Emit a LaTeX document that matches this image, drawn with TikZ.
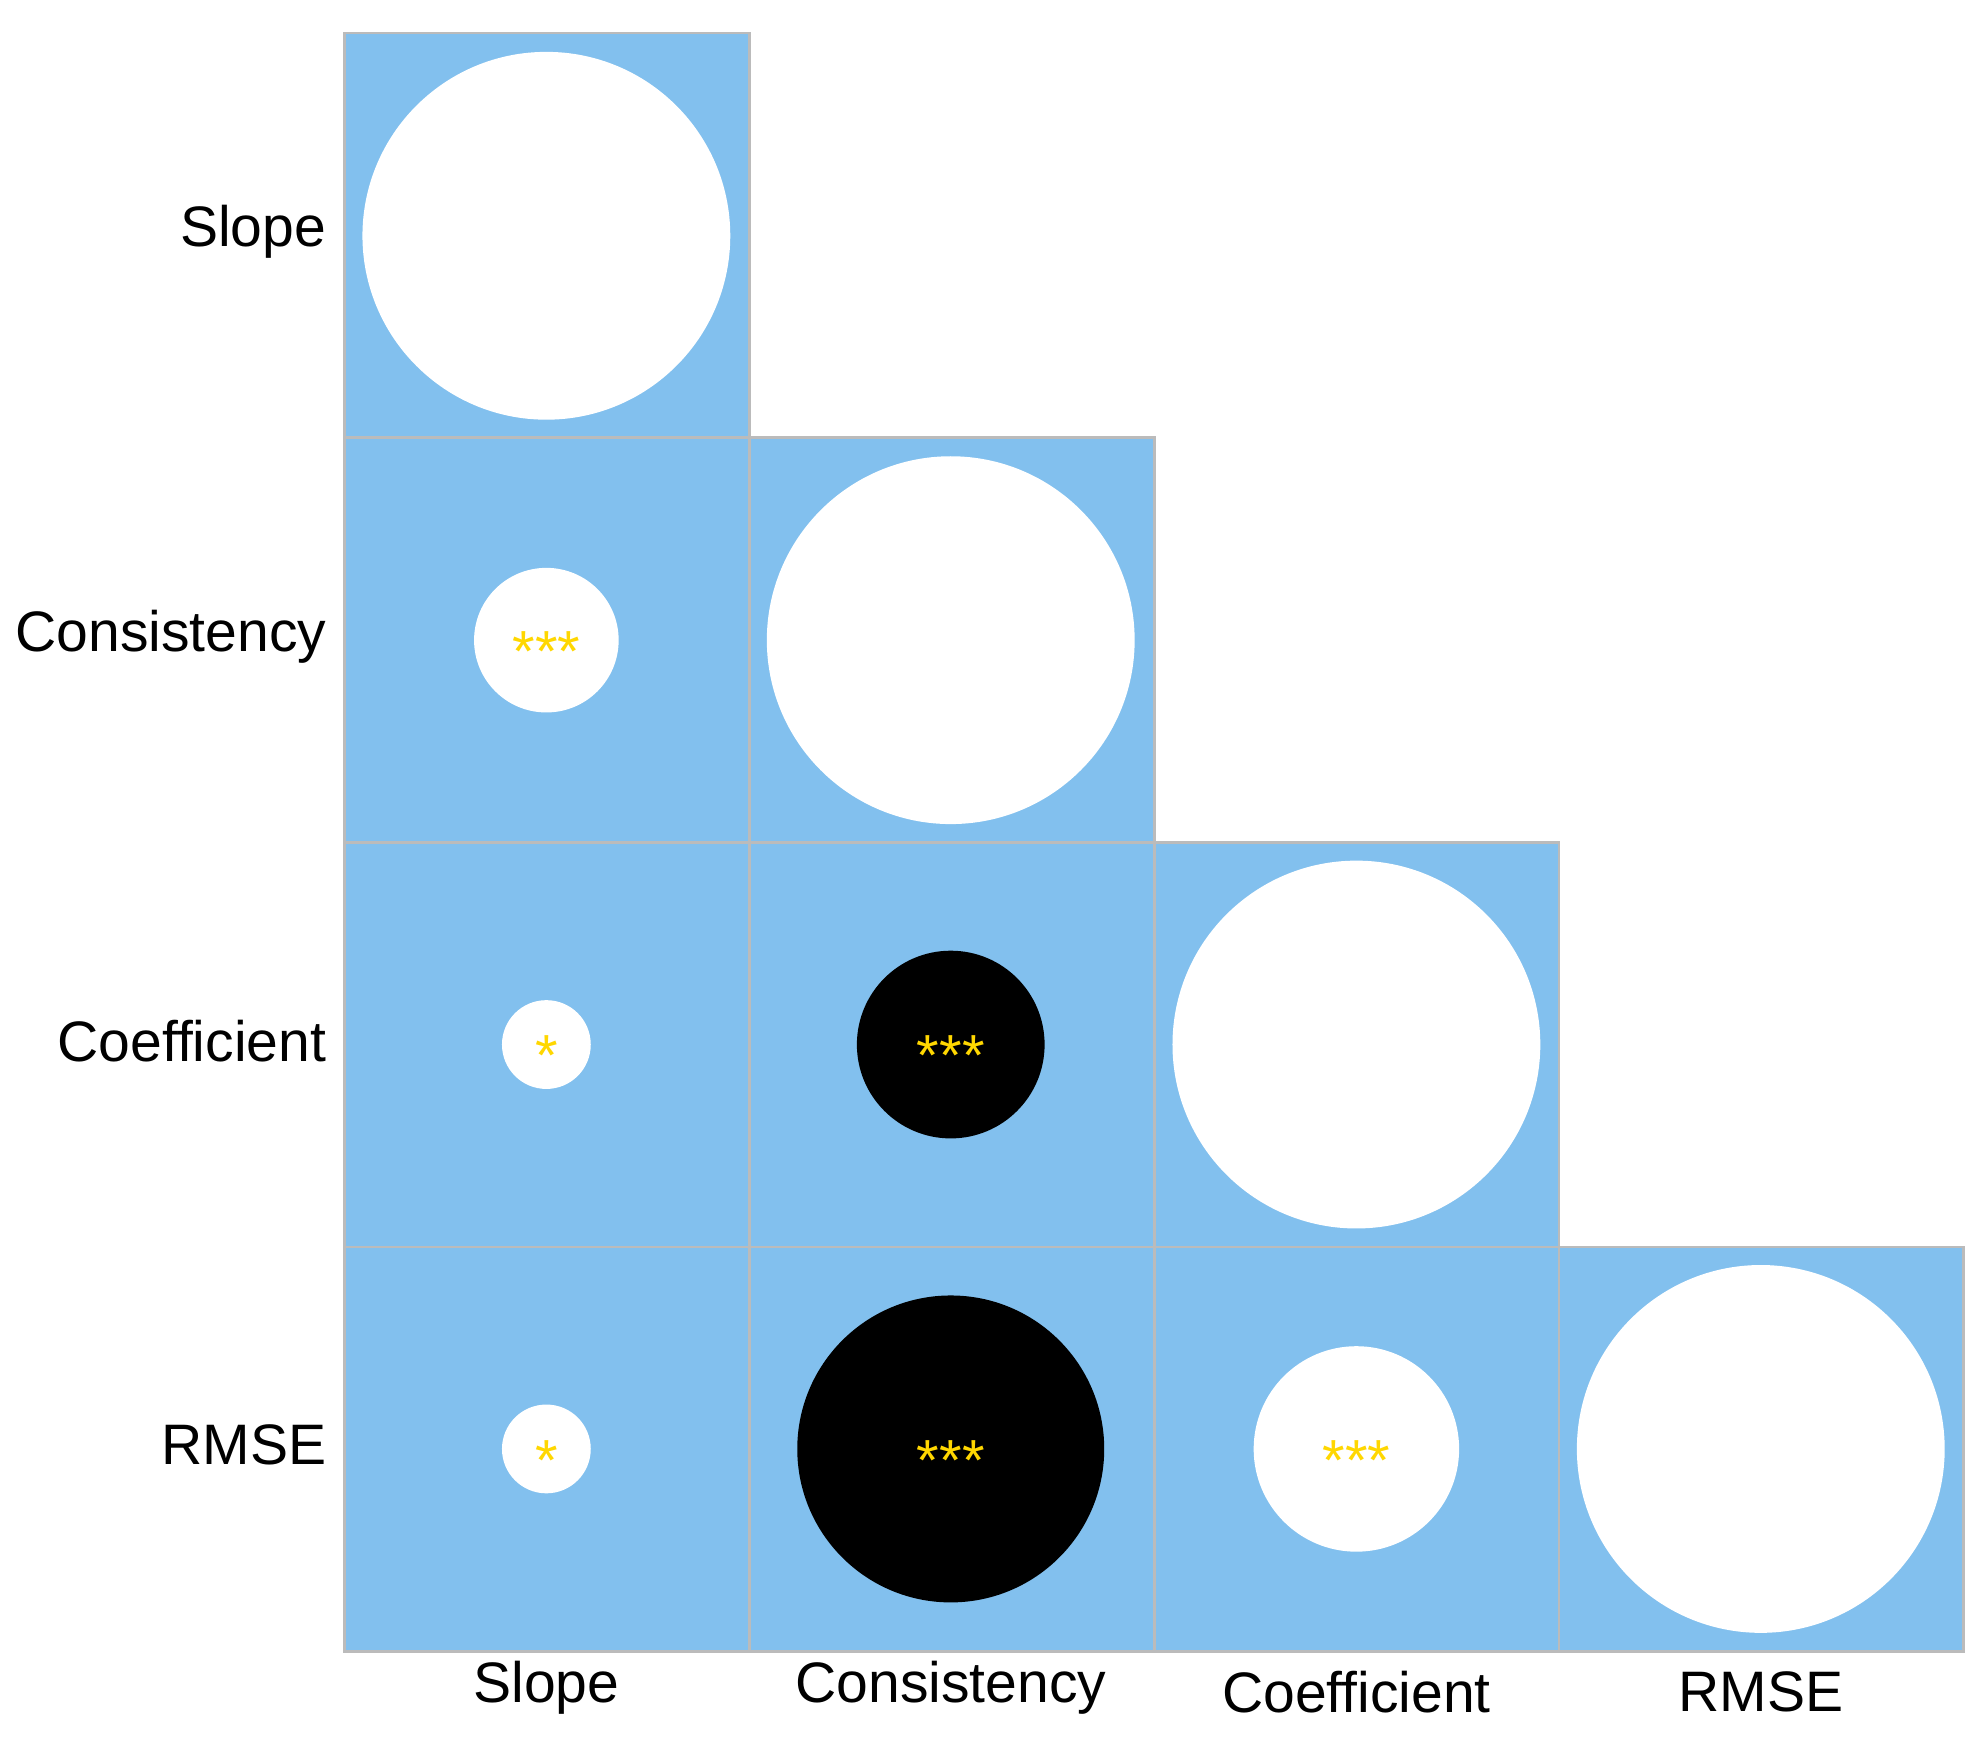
\documentclass[tikz,border=0pt]{standalone}
\usepackage{fontspec}
\setmainfont{Liberation Sans}
\begin{document}
\begin{tikzpicture}[x=0.01cm,y=-0.01cm,
  cell/.style={fill=cellblue,draw=gridgray,line width=0.6pt},
  wc/.style={circle,fill=white,inner sep=0pt},
  bc/.style={circle,fill=black,inner sep=0pt},
  lab/.style={font=\fontsize{12.8}{14}\selectfont,inner sep=0pt},
  star/.style={font=\fontsize{13}{14}\selectfont,text=stargold,inner sep=0pt,yshift=-2.5pt}]
\definecolor{cellblue}{HTML}{82C0EE}
\definecolor{gridgray}{HTML}{BBBBBB}
\definecolor{stargold}{HTML}{FFD700}
\useasboundingbox (0,0) rectangle (1558,1370);
\foreach \c/\r in {0/0,0/1,1/1,0/2,1/2,2/2,0/3,1/3,2/3,3/3}{
  \draw[cell] ({272+319.25*\c},{26+319.25*\r}) rectangle ++(319.25,319.25);
}
\node[wc,minimum size=2.9cm] (d1) at (431,186) {};
\node[wc,minimum size=2.9cm] (d2) at (750,505) {};
\node[wc,minimum size=2.9cm] (d3) at (1070,824) {};
\node[wc,minimum size=2.9cm] (d4) at (1389,1143) {};
\node[wc,minimum size=1.14cm] (c21) at (431,505) {};
\node[wc,minimum size=0.7cm] (c31) at (431,824) {};
\node[bc,minimum size=1.48cm] (c32) at (750,824) {};
\node[wc,minimum size=0.7cm] (c41) at (431,1143) {};
\node[bc,minimum size=2.42cm] (c42) at (750,1143) {};
\node[wc,minimum size=1.62cm] (c43) at (1070,1143) {};
\node[star] (s21) at (c21) {***};
\node[star] (s31) at (c31) {*};
\node[star] (s32) at (c32) {***};
\node[star] (s41) at (c41) {*};
\node[star] (s42) at (c42) {***};
\node[star] (s43) at (c43) {***};
\node[lab,anchor=east] (r1) at (258,183) {Slope};
\node[lab,anchor=east] (r2) at (258,502) {Consistency};
\node[lab,anchor=east] (r3) at (258,821) {Coefficient};
\node[lab,anchor=east] (r4) at (258,1140) {RMSE};
\node[lab] (k1) at (431,1331) {Slope};
\node[lab] (k2) at (750,1331) {Consistency};
\node[lab] (k3) at (1070,1335) {Coefficient};
\node[lab] (k4) at (1389,1335) {RMSE};
\end{tikzpicture}
\end{document}
